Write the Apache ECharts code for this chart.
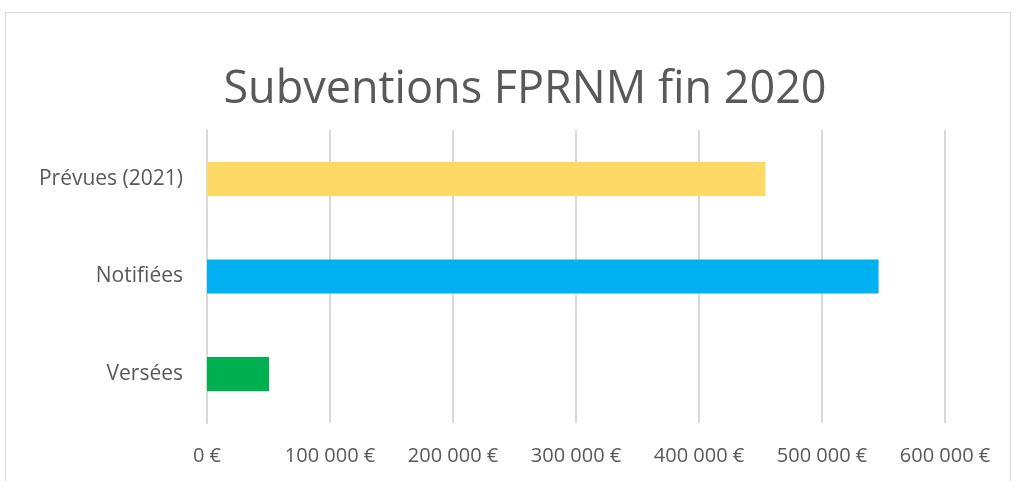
<!DOCTYPE html>
<html>
<head>
<meta charset="utf-8">
<script src="https://cdn.jsdelivr.net/npm/echarts@6/dist/echarts.min.js"></script>
<style>
  html, body { margin: 0; padding: 0; background: #fff; }
  #frame { position: absolute; left: 5px; top: 12px; width: 1006px; height: 480px; border: 1px solid #d9d9d9; box-sizing: border-box; }
  #chart { position: absolute; left: 0; top: 0; width: 1013px; height: 481px; }
</style>
</head>
<body>
<div id="frame"></div>
<div id="chart"></div>
<script>
// bottom to top, as the category axis draws them
var categories = ["Versées", "Notifiées", "Prévues (2021)"];
var amounts = [50500, 546000, 454000];
var barColors = ["#00B050", "#00B0F0", "#FFD966"];
var tickValues = [0, 100000, 200000, 300000, 400000, 500000, 600000];

function euro(v) {
  // French grouping, then the euro sign
  var s = String(v).replace(/\B(?=(\d{3})+(?!\d))/g, " ");
  return s + " €";
}

var chart = echarts.init(document.getElementById("chart"));
chart.setOption({
  animation: false,
  title: {
    text: "Subventions FPRNM fin 2020",
    left: 520,
    top: 63,
    textAlign: "center",
    textStyle: { fontFamily: "Open Sans", fontWeight: "normal", fontSize: 45, color: "#595959" }
  },
  grid: { left: 207, right: 68, top: 130, bottom: 58 },
  xAxis: {
    type: "value",
    min: 0,
    max: tickValues[tickValues.length - 1],
    interval: 100000,
    axisLine: { show: false },
    axisTick: { show: false },
    splitLine: { lineStyle: { color: "#d9d9d9", width: 2 } },
    axisLabel: {
      formatter: euro,
      margin: 23,
      color: "#595959",
      fontFamily: "Open Sans",
      fontSize: 20
    }
  },
  yAxis: {
    type: "category",
    data: categories,
    axisLine: { lineStyle: { color: "#d9d9d9", width: 2 } },
    axisTick: { show: false },
    axisLabel: { margin: 24, color: "#595959", fontFamily: "Open Sans", fontSize: 21 }
  },
  series: [{
    type: "bar",
    barCategoryGap: "65%",
    data: amounts.map(function (v, i) {
      return { value: v, itemStyle: { color: barColors[i] } };
    })
  }]
});
</script>
</body>
</html>
